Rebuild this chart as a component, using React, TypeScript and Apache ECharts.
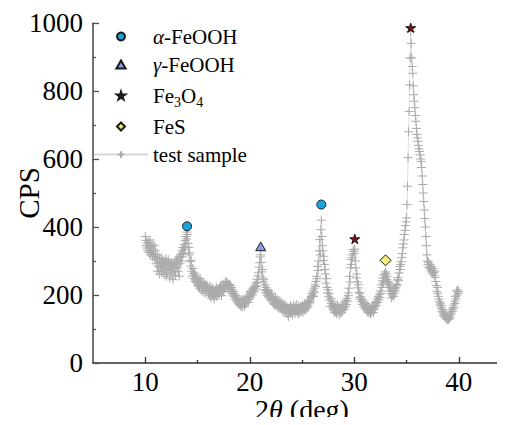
import React, { useEffect, useRef } from "react";
import * as echarts from "echarts";

// 2θ sampling grid of the measured pattern
const X_START = 10;
const X_STEP = 0.05;

// Measured CPS values, one row per degree (10.00 ... 10.95, 11.00 ... etc.)
const cps: number[] = [
  372, 345, 360, 338, 352, 330, 355, 325, 340, 362, 318, 342, 328, 350, 312, 335, 322, 346, 305, 330,
  314, 292, 305, 270, 318, 285, 298, 262, 310, 280, 295, 268, 305, 288, 272, 300, 260, 292, 278, 306,
  255, 298, 282, 265, 304, 276, 290, 250, 286, 272, 296, 262, 284, 245, 292, 278, 268, 300, 258, 288,
  304, 280, 296, 270, 310, 255, 314, 292, 320, 300, 330, 312, 340, 322, 348, 335, 360, 342, 372, 365,
  385, 378, 352, 340, 318, 324, 298, 285, 302, 270, 255, 278, 262, 248, 265, 240, 258, 245, 236, 252,
  230, 244, 226, 238, 220, 248, 232, 215, 240, 224, 210, 236, 222, 230, 205, 226, 218, 232, 212, 225,
  221, 205, 214, 198, 226, 208, 192, 215, 202, 220, 196, 210, 188, 206, 214, 200, 222, 196, 212, 205,
  216, 200, 220, 208, 228, 212, 198, 224, 215, 232, 210, 226, 218, 238, 222, 240, 228, 235, 220, 230,
  225, 232, 218, 228, 210, 222, 205, 215, 200, 210, 196, 204, 188, 198, 185, 192, 180, 188, 176, 184,
  172, 180, 168, 186, 175, 164, 182, 170, 188, 178, 166, 184, 174, 192, 180, 196, 186, 178, 194, 188,
  200, 210, 194, 206, 214, 200, 218, 208, 222, 212, 228, 218, 235, 225, 246, 238, 256, 265, 282, 295,
  312, 318, 296, 268, 275, 250, 238, 245, 215, 230, 206, 222, 212, 198, 216, 205, 194, 210, 200, 188,
  196, 186, 204, 182, 192, 176, 188, 172, 184, 194, 170, 180, 166, 186, 174, 162, 178, 168, 182, 164,
  170, 158, 176, 164, 150, 168, 156, 172, 148, 162, 154, 166, 144, 158, 137, 152, 162, 146, 168, 155,
  150, 164, 142, 158, 170, 152, 157, 146, 166, 154, 172, 150, 160, 144, 168, 156, 148, 164, 166, 152,
  162, 170, 150, 166, 158, 174, 154, 168, 160, 172, 164, 178, 168, 182, 176, 186, 180, 192, 196, 205,
  200, 212, 196, 220, 208, 230, 225, 240, 255, 248, 284, 272, 300, 330, 363, 318, 392, 420, 372, 345,
  330, 302, 314, 290, 275, 262, 235, 248, 222, 206, 215, 196, 204, 185, 166, 190, 175, 182, 168, 160,
  172, 156, 148, 164, 152, 168, 145, 158, 170, 150, 162, 142, 155, 166, 148, 160, 148, 172, 156, 164,
  168, 158, 177, 165, 184, 172, 190, 182, 206, 198, 220, 255, 238, 280, 304, 290, 318, 310, 333, 328,
  322, 335, 300, 280, 250, 262, 238, 221, 230, 208, 192, 205, 186, 196, 180, 188, 172, 180, 165, 176,
  168, 160, 175, 158, 162, 150, 170, 155, 148, 162, 152, 145, 160, 150, 166, 156, 162, 148, 170, 158,
  165, 176, 181, 170, 188, 178, 195, 186, 201, 192, 212, 205, 230, 222, 242, 250, 236, 258, 262, 250,
  268, 262, 245, 255, 232, 240, 222, 235, 211, 226, 204, 191, 215, 200, 210, 196, 218, 205, 221, 212,
  221, 232, 228, 245, 251, 242, 265, 284, 275, 290, 298, 310, 322, 339, 350, 362, 378, 390, 404, 415,
  427, 466, 520, 604, 680, 740, 818, 897, 975, 940, 898, 872, 852, 815, 789, 770, 751, 728, 711, 690,
  672, 662, 652, 640, 630, 622, 612, 600, 593, 575, 550, 525, 500, 475, 450, 425, 400, 372, 345, 318,
  300, 289, 296, 282, 280, 290, 276, 268, 284, 272, 262, 278, 266, 258, 270, 252, 240, 228, 211, 222,
  205, 196, 188, 180, 171, 176, 162, 168, 152, 157, 148, 140, 145, 136, 142, 132, 138, 130, 127, 134,
  128, 136, 130, 142, 135, 150, 144, 158, 152, 163, 170, 162, 182, 175, 196, 188, 211, 200, 215, 205,
  210,
];

// Phase markers [2θ, CPS]
const alphaFeOOH: number[][] = [[14.0, 402], [26.85, 466]];
const gammaFeOOH: number[][] = [[21.05, 343]];
const fe3o4: number[][] = [[30.05, 365], [35.4, 986]];
const feS: number[][] = [[33.0, 302]];

const xMajorTicks = [10, 20, 30, 40];
const xMinorTicks = [15, 25, 35];

const FONT = "Liberation Serif, Times New Roman, serif";

const legendLabels: Record<string, string> = {
  "α-FeOOH": "{i|α}-FeOOH",
  "γ-FeOOH": "{i|γ}-FeOOH",
  "Fe3O4": "Fe{sub|3}O{sub|4}",
  "FeS": "FeS",
  "test sample": "test sample",
};

const STAR =
  "path://M50,0L61,35L98,35L68,57L79,91L50,70L21,91L32,57L2,35L39,35Z";
const TRIANGLE = "path://M50,0L100,87L0,87Z";
const DIAMOND = "path://M50,0L100,50L50,100L0,50Z";
const PLUS = "path://M0,5L10,5M5,0L5,10";

const tickRich = {
  n: { fontFamily: FONT, fontSize: 27, color: "#000" },
};

export default function App() {
  const ref = useRef<HTMLDivElement>(null);

  useEffect(() => {
    if (!ref.current) return;
    const chart = echarts.init(ref.current, null, { renderer: "svg" });
    const samples = cps.map((v, i) => [
      Math.round((X_START + i * X_STEP) * 100) / 100,
      v,
    ]);

    chart.setOption({
      animation: false,
      backgroundColor: "#ffffff",
      textStyle: { fontFamily: FONT, color: "#000" },
      grid: {
        left: 93,
        top: 23,
        width: 418,
        height: 340,
        containLabel: false,
        outerBoundsMode: "none",
      },
      legend: {
        orient: "vertical",
        left: 93,
        top: 26,
        padding: 0,
        itemWidth: 54,
        itemHeight: 8,
        itemGap: 7,
        symbolKeepAspect: true,
        selectedMode: false,
        data: ["α-FeOOH", "γ-FeOOH", "Fe3O4", "FeS", "test sample"],
        formatter: (name: string) => legendLabels[name] ?? name,
        textStyle: {
          fontFamily: FONT,
          fontSize: 21,
          color: "#000",
          rich: {
            i: { fontFamily: FONT, fontSize: 21, fontStyle: "italic", color: "#000" },
            sub: {
              fontFamily: FONT,
              fontSize: 14,
              color: "#000",
              lineHeight: 14,
              padding: [13, 0, 0, 0],
            },
          },
        },
      },
      xAxis: [
        {
          type: "value",
          min: 5,
          max: 45,
          name: "2{i|θ} (deg)",
          nameLocation: "middle",
          nameGap: 32,
          nameMoveOverlap: false,
          nameTextStyle: {
            fontFamily: FONT,
            fontSize: 28,
            color: "#000",
            rich: {
              i: { fontFamily: FONT, fontSize: 28, fontStyle: "italic", color: "#000" },
            },
          },
          axisLine: { show: true, lineStyle: { color: "#303030", width: 1.6 } },
          axisTick: {
            show: true,
            inside: true,
            length: 6,
            customValues: xMajorTicks,
            lineStyle: { color: "#303030", width: 1.3 },
          },
          axisLabel: {
            customValues: xMajorTicks,
            fontFamily: FONT,
            fontSize: 27,
            color: "#000",
            margin: 5,
            formatter: (v: number) => "{n|" + v + "}",
            rich: tickRich,
          },
          splitLine: { show: false },
        },
        {
          type: "value",
          min: 5,
          max: 45,
          position: "bottom",
          axisLine: { show: false },
          axisTick: {
            show: true,
            inside: true,
            length: 3,
            customValues: xMinorTicks,
            lineStyle: { color: "#303030", width: 1.3 },
          },
          axisLabel: { show: false },
          splitLine: { show: false },
        },
      ],
      yAxis: {
        type: "value",
        min: 0,
        max: 1000,
        interval: 200,
        name: "CPS",
        nameLocation: "middle",
        nameGap: 50,
        nameMoveOverlap: false,
        nameTextStyle: { fontFamily: FONT, fontSize: 29, color: "#000" },
        axisLine: { show: true, lineStyle: { color: "#505050", width: 1.6 } },
        axisTick: { show: true, inside: true, length: 6, lineStyle: { color: "#505050", width: 1.3 } },
        minorTick: { show: true, splitNumber: 2, length: 3, lineStyle: { color: "#505050", width: 1.3 } },
        axisLabel: {
          fontFamily: FONT,
          fontSize: 27,
          color: "#000",
          margin: 10,
          formatter: (v: number) => "{n|" + v + "}",
          rich: tickRich,
        },
        splitLine: { show: false },
        minorSplitLine: { show: false },
      },
      series: [
        {
          name: "test sample",
          type: "line",
          xAxisIndex: 0,
          data: samples,
          symbol: PLUS,
          symbolSize: 9,
          showSymbol: true,
          showAllSymbol: true,
          silent: true,
          z: 2,
          lineStyle: { color: "#d6d6d6", width: 0.8 },
          itemStyle: { color: "rgba(0,0,0,0)", borderColor: "#ababab", borderWidth: 1 },
        },
        {
          name: "α-FeOOH",
          type: "scatter",
          data: alphaFeOOH,
          symbol: "circle",
          symbolSize: 9,
          symbolKeepAspect: true,
          z: 5,
          itemStyle: { color: "#1aa3dd", borderColor: "#1a1a1a", borderWidth: 1, opacity: 1 },
        },
        {
          name: "γ-FeOOH",
          type: "scatter",
          data: gammaFeOOH,
          symbol: TRIANGLE,
          symbolSize: 10,
          symbolKeepAspect: true,
          z: 5,
          itemStyle: { color: "#8b9be6", borderColor: "#1a1a1a", borderWidth: 1, opacity: 1 },
        },
        {
          name: "Fe3O4",
          type: "scatter",
          data: fe3o4,
          symbol: STAR,
          symbolSize: 10,
          symbolKeepAspect: true,
          z: 5,
          itemStyle: { color: "#8b0a0a", borderColor: "#1a1a1a", borderWidth: 1, opacity: 1 },
        },
        {
          name: "FeS",
          type: "scatter",
          data: feS,
          symbol: DIAMOND,
          symbolSize: 11,
          symbolKeepAspect: true,
          z: 5,
          itemStyle: { color: "#f6f07a", borderColor: "#1a1a1a", borderWidth: 1, opacity: 1 },
        },
      ],
    });

    return () => {
      chart.dispose();
    };
  }, []);

  return <div ref={ref} style={{ width: 505, height: 425, margin: -8 }} />;
}
